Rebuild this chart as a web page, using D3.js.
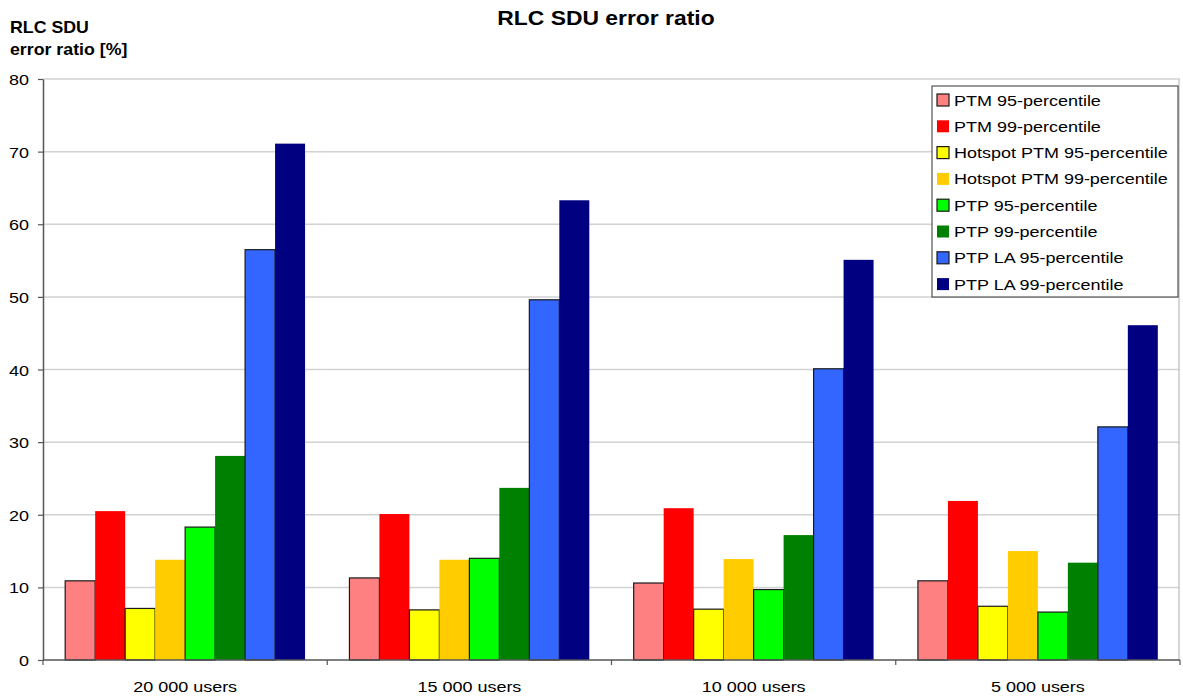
<!DOCTYPE html>
<html>
<head>
<meta charset="utf-8">
<script src="https://cdn.jsdelivr.net/npm/d3@7"></script>
<style>
  html, body { margin: 0; padding: 0; background: #fff; }
  svg { display: block; font-family: "Liberation Sans", Arial, sans-serif; }
</style>
</head>
<body>
<svg id="chart" width="1183" height="699"></svg>
<script>
// Categories (user load) and series labels
const categories = ["20 000 users", "15 000 users", "10 000 users", "5 000 users"];
const seriesNames = [
  "PTM 95-percentile", "PTM 99-percentile",
  "Hotspot PTM 95-percentile", "Hotspot PTM 99-percentile",
  "PTP 95-percentile", "PTP 99-percentile",
  "PTP LA 95-percentile", "PTP LA 99-percentile"
];
const seriesColors = ["#ff8080", "#ff0000", "#ffff00", "#ffcc00", "#00ff00", "#008000", "#3366ff", "#000080"];
// 95-percentile series are drawn with an outline
const outlined = [true, false, true, false, true, false, true, false];

// RLC SDU error ratio [%] per series, one value per category
const ptm95        = [10.9, 11.3, 10.6, 10.9];
const ptm99        = [20.5, 20.1, 20.9, 21.9];
const hotspotPtm95 = [7.1, 6.9, 7.0, 7.4];
const hotspotPtm99 = [13.8, 13.8, 13.9, 15.0];
const ptp95        = [18.3, 14.0, 9.7, 6.6];
const ptp99        = [28.1, 23.7, 17.2, 13.4];
const ptpLa95      = [56.5, 49.6, 40.1, 32.1];
const ptpLa99      = [71.1, 63.3, 55.1, 46.1];
const seriesValues = [ptm95, ptm99, hotspotPtm95, hotspotPtm99, ptp95, ptp99, ptpLa95, ptpLa99];

const yTicks = [0, 10, 20, 30, 40, 50, 60, 70, 80];

const svg = d3.select("#chart");
const plot = { left: 43, right: 1180, top: 79, bottom: 660 };

// Text is drawn with a slight horizontal stretch (wide-set Arial look)
const TEXT_SX = 1.2;
function stretchedText(parent, px, py, str, opts) {
  const g = parent.append("g").attr("transform", `translate(${px},${py}) scale(${opts.sx || TEXT_SX},1)`);
  const t = g.append("text")
    .attr("x", 0).attr("y", 0)
    .attr("font-size", opts.size || 15)
    .attr("font-weight", opts.weight || "normal")
    .attr("text-anchor", opts.anchor || "start")
    .attr("fill", "#000")
    .text(str);
  return t;
}

const x = d3.scaleBand().domain(categories).range([plot.left, plot.right]).padding(0);
const xs = d3.scaleBand().domain(seriesNames).range([0, x.bandwidth()])
  .paddingInner(0).paddingOuter(0.74);
const y = d3.scaleLinear().domain([0, 80]).range([plot.bottom, plot.top]);

// Horizontal gridlines
svg.append("g").selectAll("line").data(yTicks.filter(d => d > 0)).join("line")
  .attr("x1", plot.left).attr("x2", plot.right)
  .attr("y1", d => y(d)).attr("y2", d => y(d))
  .attr("stroke", "#d2d2d2").attr("stroke-width", 1.5);

// Right plot border
svg.append("line")
  .attr("x1", plot.right - 1).attr("x2", plot.right - 1)
  .attr("y1", plot.top).attr("y2", plot.bottom)
  .attr("stroke", "#c8c8c8").attr("stroke-width", 1.5);

// Bars
const rows = [];
categories.forEach((c, ci) => {
  seriesNames.forEach((s, si) => {
    rows.push({ cat: c, series: s, si, value: seriesValues[si][ci] });
  });
});
svg.append("g").selectAll("rect").data(rows).join("rect")
  .attr("x", d => x(d.cat) + xs(d.series))
  .attr("y", d => y(d.value))
  .attr("width", xs.bandwidth())
  .attr("height", d => y(0) - y(d.value))
  .attr("fill", d => seriesColors[d.si])
  .attr("stroke", d => outlined[d.si] ? "#1a1a1a" : "none")
  .attr("stroke-width", 1.2);

// Y axis
const yAxis = svg.append("g")
  .attr("transform", `translate(${plot.left},0)`)
  .call(d3.axisLeft(y).tickValues(yTicks).tickSize(5).tickPadding(5).tickSizeOuter(0));
yAxis.select(".domain").attr("stroke", "#555").attr("stroke-width", 1.5);
yAxis.selectAll(".tick line").attr("stroke", "#555").attr("stroke-width", 1.2);
yAxis.selectAll(".tick text").remove();
yAxis.selectAll(".tick").each(function(d) {
  stretchedText(d3.select(this), -14, 5.5, String(d), { size: 15, anchor: "end" });
});

// X axis: boundary ticks between categories
const xAxisG = svg.append("g");
xAxisG.append("line")
  .attr("x1", plot.left).attr("x2", plot.right)
  .attr("y1", plot.bottom).attr("y2", plot.bottom)
  .attr("stroke", "#555").attr("stroke-width", 1.5);
const boundaries = categories.map(c => x(c)).concat([x(categories[categories.length - 1]) + x.bandwidth()]);
xAxisG.selectAll("line.tick").data(boundaries).join("line")
  .attr("class", "tick")
  .attr("x1", d => d).attr("x2", d => d)
  .attr("y1", plot.bottom).attr("y2", plot.bottom + 5)
  .attr("stroke", "#555").attr("stroke-width", 1.2);
categories.forEach(c => {
  stretchedText(xAxisG, x(c) + x.bandwidth() / 2, 692, c, { size: 15, anchor: "middle" });
});

// Titles
stretchedText(svg, 606, 25, "RLC SDU error ratio", { size: 21, weight: "bold", anchor: "middle", sx: 1.09 });
stretchedText(svg, 10, 33, "RLC SDU", { size: 16, weight: "bold", sx: 1.11 });
stretchedText(svg, 10, 55, "error ratio [%]", { size: 16, weight: "bold", sx: 1.11 });

// Legend
const legend = svg.append("g");
legend.append("rect")
  .attr("x", 932).attr("y", 86).attr("width", 246).attr("height", 211)
  .attr("fill", "#fff").attr("stroke", "#333").attr("stroke-width", 1);
seriesNames.forEach((name, i) => {
  const cy = 100 + i * 26.3;
  legend.append("rect")
    .attr("x", 937).attr("y", cy - 6).attr("width", 12).attr("height", 12)
    .attr("fill", seriesColors[i])
    .attr("stroke", outlined[i] ? "#1a1a1a" : "none")
    .attr("stroke-width", 1.2);
  stretchedText(legend, 954, cy + 5.5, name, { size: 15 });
});
</script>
</body>
</html>
